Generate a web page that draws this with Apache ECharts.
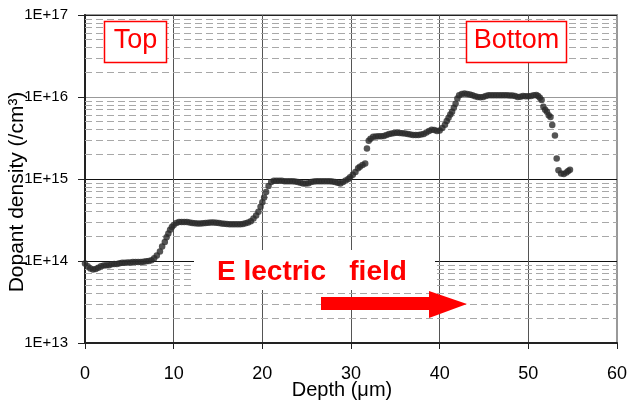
<!DOCTYPE html>
<html>
<head>
<meta charset="utf-8">
<script src="https://cdn.jsdelivr.net/npm/echarts@6/dist/echarts.min.js"></script>
<style>
html,body{margin:0;padding:0;background:#fff;}
#chart{width:630px;height:405px;}
</style>
</head>
<body>
<div id="chart"></div>
<script>
// ---- data ----
const depth = [
  0.0,0.3,0.6,0.9,1.2,1.5,1.8,2.1,2.4,2.7,3.0,3.3,3.6,3.9,4.2,4.5,4.8,5.1,5.4,5.7,6.0,6.3,6.6,6.9,7.2,7.5,7.8,8.1,
  8.45,8.7,9.0,9.2,9.4,9.6,9.8,10.0,10.3,10.6,10.9,11.2,11.5,11.8,12.1,12.4,12.7,13.0,13.3,13.6,13.9,14.2,14.5,14.8,
  15.1,15.4,15.7,16.0,16.3,16.6,16.9,17.2,17.5,17.8,18.1,18.4,18.7,19.0,19.3,19.56,19.8,20.0,20.2,20.43,20.7,21.0,
  21.3,21.6,21.9,22.2,22.5,22.8,23.1,23.4,23.7,24.0,24.3,24.6,24.9,25.2,25.5,25.8,26.1,26.4,26.7,27.0,27.3,27.6,
  27.9,28.2,28.5,28.8,29.1,29.4,29.7,29.9,30.2,30.5,30.8,31.0,31.3,31.6,31.8,32.0,32.2,32.5,32.8,33.1,33.4,33.7,
  34.0,34.3,34.6,34.9,35.2,35.5,35.8,36.1,36.4,36.7,37.0,37.3,37.6,37.9,38.2,38.5,38.8,39.1,39.4,39.7,40.0,40.3,
  40.6,40.8,41.0,41.2,41.4,41.6,41.8,42.0,42.2,42.5,42.8,43.1,43.4,43.7,44.0,44.3,44.6,44.9,45.2,45.5,45.8,46.1,
  46.4,46.7,47.0,47.3,47.6,47.9,48.2,48.5,48.8,49.1,49.4,49.7,50.0,50.3,50.6,50.9,51.1,51.3,51.5,51.7,51.9,52.1,
  52.3,52.5,52.7,53.0,53.2,53.4,53.7,54.0,54.3,54.5,54.7
];
const density = [
  9.3e13,8.6e13,8.1e13,7.9e13,8.0e13,8.3e13,8.6e13,8.8e13,8.9e13,8.9e13,9.1e13,9.2e13,9.2e13,9.4e13,9.5e13,9.5e13,9.6e13,9.6e13,9.7e13,9.7e13,9.7e13,9.7e13,9.8e13,9.9e13,1.0e14,1.02e14,1.08e14,1.17e14,
  1.31e14,1.5e14,1.7e14,1.95e14,2.16e14,2.4e14,2.6e14,2.75e14,2.9e14,3.0e14,3.0e14,3.0e14,2.98e14,2.95e14,2.9e14,2.88e14,2.87e14,2.86e14,2.88e14,2.9e14,2.93e14,2.95e14,2.95e14,2.93e14,
  2.9e14,2.87e14,2.84e14,2.82e14,2.8e14,2.8e14,2.8e14,2.8e14,2.8e14,2.82e14,2.88e14,2.95e14,3.05e14,3.3e14,3.6e14,4.0e14,4.6e14,5.2e14,5.95e14,6.96e14,8.2e14,9.2e14,
  9.5e14,9.5e14,9.5e14,9.5e14,9.4e14,9.4e14,9.4e14,9.4e14,9.3e14,9.2e14,9.0e14,8.8e14,8.8e14,8.9e14,9.2e14,9.3e14,9.4e14,9.4e14,9.4e14,9.4e14,9.4e14,9.4e14,
  9.3e14,9.2e14,9.0e14,8.8e14,9.2e14,9.6e14,1.0e15,1.05e15,1.13e15,1.22e15,1.35e15,1.41e15,1.48e15,1.55e15,2.36e15,2.92e15,3.1e15,3.27e15,3.3e15,3.33e15,3.33e15,3.35e15,
  3.45e15,3.55e15,3.6e15,3.65e15,3.66e15,3.65e15,3.62e15,3.6e15,3.55e15,3.48e15,3.43e15,3.43e15,3.45e15,3.5e15,3.55e15,3.7e15,3.85e15,4.0e15,3.95e15,3.85e15,3.9e15,4.2e15,
  4.6e15,5.1e15,5.6e15,6.1e15,6.6e15,7.4e15,8.3e15,9.6e15,1.05e16,1.09e16,1.1e16,1.09e16,1.07e16,1.05e16,1.02e16,1.0e16,9.9e15,1.0e16,1.03e16,1.05e16,1.05e16,1.05e16,
  1.05e16,1.05e16,1.05e16,1.05e16,1.05e16,1.04e16,1.04e16,1.03e16,1.0e16,1.01e16,1.03e16,1.02e16,1.02e16,1.03e16,1.05e16,1.06e16,1.03e16,9.8e15,9.2e15,7.6e15,7.0e15,6.6e15,
  6.0e15,5.7e15,4.54e15,3.4e15,1.78e15,1.28e15,1.17e15,1.15e15,1.2e15,1.25e15,1.3e15
];
const xTickLabels = ['0','10','20','30','40','50','60'];
const yTickLabels = ['1E+13','1E+14','1E+15','1E+16','1E+17'];
const minorGridValues = [
  2e13,3e13,4e13,5e13,6e13,7e13,8e13,9e13,
  2e14,3e14,4e14,5e14,6e14,7e14,8e14,9e14,
  2e15,3e15,4e15,5e15,6e15,7e15,8e15,9e15,
  2e16,3e16,4e16,5e16,6e16,7e16,8e16,9e16
];
const xTitle = 'Depth (\u03bcm)';
const yTitle = 'Dopant density (/cm\u00b3)';
const fieldLabel = 'E lectric   field';
const topLabel = 'Top';
const bottomLabel = 'Bottom';

const points = depth.map((d, i) => [d, density[i]]);
const FONT = '"Liberation Sans", Arial, sans-serif';

const chart = echarts.init(document.getElementById('chart'), null, {renderer: 'canvas'});
chart.setOption({
  animation: false,
  backgroundColor: '#fff',
  grid: {
    left: 85, right: 13, top: 15, bottom: 62,
    show: true, borderColor: '#999', borderWidth: 2, backgroundColor: 'transparent'
  },
  xAxis: {
    type: 'value', min: 0, max: 60, interval: 10,
    axisLine: {show: true, onZero: false, lineStyle: {color: '#222', width: 2}},
    axisTick: {show: true, length: 6, lineStyle: {color: '#222', width: 1}},
    axisLabel: {
      margin: 22, color: '#000', fontSize: 18, fontFamily: FONT,
      formatter: v => xTickLabels[Math.round(v / 10)]
    },
    splitLine: {show: true, lineStyle: {color: ['#222', '#555', '#555', '#555', '#555', '#555', '#999'], width: 1}}
  },
  yAxis: {
    type: 'log', logBase: 10, min: 1e13, max: 1e17,
    axisLine: {show: true, onZero: false, lineStyle: {color: '#222', width: 2}},
    axisTick: {show: true, length: 7, lineStyle: {color: '#222', width: 1}},
    axisLabel: {
      margin: 17, color: '#000', fontSize: 15, fontFamily: FONT,
      formatter: v => yTickLabels[Math.round(Math.log10(v)) - 13]
    },
    splitLine: {show: true, lineStyle: {color: ['#222', '#111', '#111', '#111', '#999'], width: 1}},
    minorTick: {show: false},
    minorSplitLine: {show: false}
  },
  series: [{
    type: 'scatter',
    data: points,
    symbol: 'circle',
    symbolSize: 6.5,
    itemStyle: {color: '#2b2b2b'},
    silent: true,
    z: 5,
    markLine: {
      silent: true,
      symbol: ['none', 'none'],
      label: {show: false},
      lineStyle: {color: '#a8a8a8', type: [7, 4], width: 1},
      z: 1,
      data: minorGridValues.map(v => ({yAxis: v}))
    }
  }],
  graphic: [
    {type: 'rect', z: 100, shape: {x: 194, y: 250, width: 241, height: 40}, style: {fill: '#fff'}},
    {type: 'text', z: 101, x: 217, y: 272, style: {
      text: fieldLabel, fill: '#ff0000', font: 'bold 28px ' + FONT, verticalAlign: 'middle', align: 'left'
    }},
    {type: 'polygon', z: 101, shape: {points: [[321, 297], [429, 297], [429, 291], [467, 304], [429, 318], [429, 310], [321, 310]]},
      style: {fill: '#ff0000'}},
    {type: 'rect', z: 100, shape: {x: 104.5, y: 21.5, width: 62, height: 41}, style: {fill: '#fff', stroke: '#ff0000', lineWidth: 1.5}},
    {type: 'text', z: 101, x: 135.5, y: 41, style: {
      text: topLabel, fill: '#ff0000', font: '27px ' + FONT, verticalAlign: 'middle', align: 'center'
    }},
    {type: 'rect', z: 100, shape: {x: 466.5, y: 21.5, width: 100, height: 41}, style: {fill: '#fff', stroke: '#ff0000', lineWidth: 1.5}},
    {type: 'text', z: 101, x: 516.5, y: 41, style: {
      text: bottomLabel, fill: '#ff0000', font: '27px ' + FONT, verticalAlign: 'middle', align: 'center'
    }},
    {type: 'text', z: 101, x: 342, y: 390, style: {
      text: xTitle, fill: '#000', font: '20px ' + FONT, verticalAlign: 'middle', align: 'center'
    }},
    {type: 'text', z: 101, x: 17, y: 192, rotation: Math.PI / 2, style: {
      text: yTitle, fill: '#000', font: '21px ' + FONT, verticalAlign: 'middle', align: 'center'
    }}
  ]
});
</script>
</body>
</html>
